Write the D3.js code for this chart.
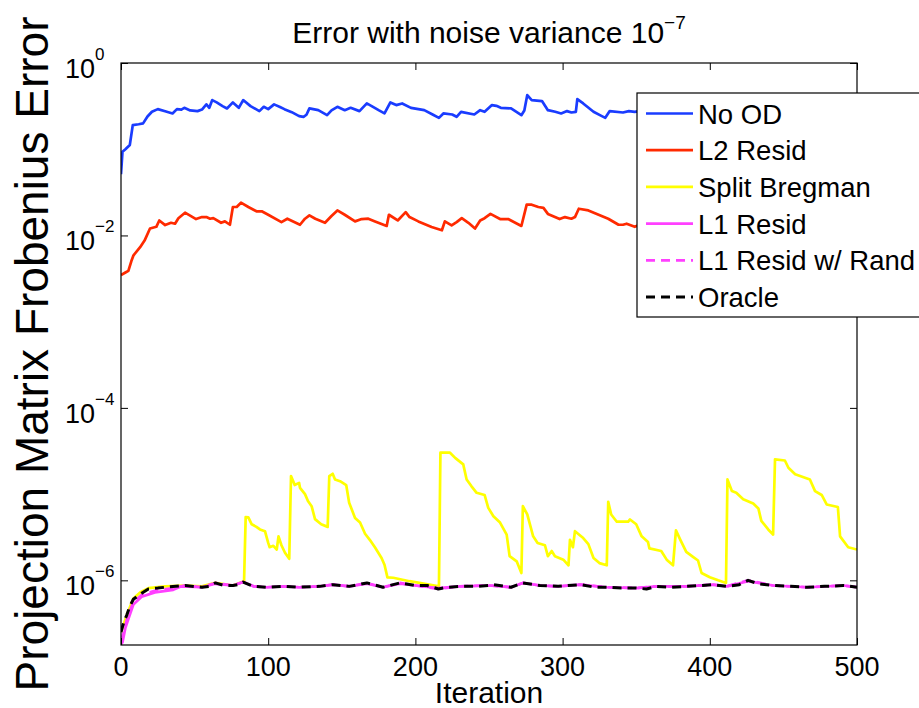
<!DOCTYPE html>
<html>
<head>
<meta charset="utf-8">
<script src="https://cdn.jsdelivr.net/npm/d3@7/dist/d3.min.js"></script>
<style>
  body { margin: 0; background: #fff; }
  svg { font-family: "Liberation Sans", Arial, Helvetica, sans-serif; }
</style>
</head>
<body>
<div id="chart-container"></div>
<script>
// [iteration, log10(error)]
const noOd = [[0,-1.29],[1,-1.03],[3,-1.0],[6,-0.95],[8,-0.72],[12,-0.71],[15,-0.7],[18,-0.62],[21,-0.566],[25,-0.535],[30,-0.56],[35,-0.585],[38,-0.535],[41,-0.54],[43,-0.52],[47,-0.55],[52,-0.558],[55,-0.54],[58,-0.48],[60,-0.52],[62,-0.43],[65,-0.457],[69,-0.5],[72,-0.527],[76,-0.457],[80,-0.52],[83,-0.43],[88,-0.5],[94,-0.558],[97,-0.508],[100,-0.535],[104,-0.48],[108,-0.51],[111,-0.535],[116,-0.57],[121,-0.616],[124,-0.624],[126,-0.6],[128,-0.527],[134,-0.547],[140,-0.605],[143,-0.55],[147,-0.508],[152,-0.547],[156,-0.52],[162,-0.558],[167,-0.469],[170,-0.497],[175,-0.547],[179,-0.585],[183,-0.457],[187,-0.488],[191,-0.469],[197,-0.52],[206,-0.547],[212,-0.6],[216,-0.636],[219,-0.585],[225,-0.597],[228,-0.624],[231,-0.566],[240,-0.597],[244,-0.547],[247,-0.566],[252,-0.488],[255,-0.497],[258,-0.52],[265,-0.527],[272,-0.605],[274,-0.55],[276,-0.372],[279,-0.43],[286,-0.442],[290,-0.547],[295,-0.566],[299,-0.585],[303,-0.558],[306,-0.574],[309,-0.566],[310,-0.419],[314,-0.469],[321,-0.566],[326,-0.61],[329,-0.636],[332,-0.558],[341,-0.574],[345,-0.558],[349,-0.566],[355,-0.55],[362,-0.6],[370,-0.52],[378,-0.56],[386,-0.5],[395,-0.58],[404,-0.54],[412,-0.6],[420,-0.5],[430,-0.56],[440,-0.53],[450,-0.6],[460,-0.55],[470,-0.5],[480,-0.57],[490,-0.54],[500,-0.56]];

const l2Resid = [[0,-2.46],[3,-2.43],[5,-2.41],[7,-2.3],[8.5,-2.23],[13,-2.136],[16,-2.06],[19.7,-1.92],[24,-1.9],[26,-1.826],[30,-1.88],[34,-1.853],[36.7,-1.864],[39,-1.8],[43.5,-1.736],[51,-1.81],[55,-1.787],[58,-1.787],[60.5,-1.806],[62.7,-1.8],[68,-1.853],[70.6,-1.837],[74,-1.876],[76,-1.67],[78.6,-1.67],[81.5,-1.62],[86.5,-1.67],[92,-1.72],[95.6,-1.72],[100,-1.76],[109,-1.845],[113,-1.806],[121.6,-1.876],[125,-1.806],[128,-1.767],[132,-1.806],[138.6,-1.853],[143,-1.775],[147,-1.71],[152,-1.76],[159,-1.837],[163.5,-1.81],[168,-1.806],[172.6,-1.837],[180.5,-1.89],[182,-1.76],[188,-1.826],[193.4,-1.73],[196,-1.787],[202,-1.837],[211,-1.903],[218,-1.94],[220,-1.837],[224.6,-1.884],[228,-1.845],[231.5,-1.8],[236,-1.853],[240.5,-1.92],[244,-1.826],[247,-1.8],[251,-1.75],[257.5,-1.81],[263,-1.81],[272,-1.89],[275.6,-1.643],[279,-1.643],[283.5,-1.67],[287,-1.68],[290,-1.75],[298,-1.81],[301.6,-1.787],[306,-1.806],[308.4,-1.787],[311,-1.69],[317.5,-1.71],[331,-1.806],[338,-1.876],[341,-1.876],[343.5,-1.864],[349,-1.9],[356,-1.85],[364,-1.9],[372,-1.8],[380,-1.86],[390,-1.82],[400,-1.9],[410,-1.85],[420,-1.78],[430,-1.86],[440,-1.82],[450,-1.9],[460,-1.84],[470,-1.8],[480,-1.87],[490,-1.83],[500,-1.88]];

const splitBregman = [[0,-6.6],[4,-6.4],[8.4,-6.21],[13,-6.14],[18.6,-6.09],[30,-6.07],[43.5,-6.06],[55,-6.07],[64,-6.03],[76,-6.06],[83.6,-6.01],[84.7,-5.267],[86.5,-5.27],[88.8,-5.35],[92,-5.38],[94.4,-5.41],[97.8,-5.43],[100,-5.566],[101,-5.616],[103.5,-5.6],[105.8,-5.643],[107,-5.49],[109,-5.593],[111.4,-5.68],[114.3,-5.75],[115.5,-4.79],[117,-4.85],[118,-4.895],[121,-4.87],[121.6,-4.927],[125,-5.0],[127,-5.08],[129.5,-5.14],[131.8,-5.29],[136,-5.35],[140.4,-5.38],[141.5,-4.79],[143.8,-4.764],[145.4,-4.83],[148.8,-4.85],[153,-4.895],[155,-5.1],[159,-5.276],[162.4,-5.33],[165.8,-5.46],[169,-5.53],[172.6,-5.62],[177,-5.74],[179,-5.82],[181,-5.965],[185,-5.97],[196,-6.01],[216,-6.07],[217,-4.52],[223.5,-4.52],[227,-4.58],[232.5,-4.655],[234.8,-4.83],[238,-4.907],[241.6,-4.985],[247,-5.01],[249.5,-5.16],[253,-5.256],[257.5,-5.33],[262,-5.47],[264,-5.72],[268.8,-5.78],[272,-5.915],[273,-5.14],[276,-5.236],[280,-5.49],[283,-5.566],[288,-5.593],[290,-5.72],[292.6,-5.66],[294.8,-5.72],[300.5,-5.76],[304,-5.826],[305,-5.53],[307,-5.616],[308.4,-5.43],[314,-5.51],[317.5,-5.58],[321,-5.74],[325,-5.8],[330,-5.826],[331,-5.09],[333,-5.236],[336.8,-5.32],[344.6,-5.32],[345.8,-5.294],[350,-5.35],[353.7,-5.49],[358,-5.555],[359,-5.63],[367,-5.66],[370.7,-5.76],[375,-5.826],[377,-5.42],[380,-5.53],[384,-5.67],[388.8,-5.73],[392,-5.77],[394.4,-5.915],[400,-5.965],[405.7,-6.0],[411,-6.03],[412,-4.83],[415,-4.965],[418,-4.985],[422.7,-5.06],[429.5,-5.11],[433,-5.166],[435,-5.31],[439.7,-5.41],[443,-5.47],[444.3,-4.597],[451,-4.61],[453.4,-4.694],[458,-4.77],[468,-4.83],[471.5,-4.965],[476,-5.01],[479.4,-5.12],[487,-5.15],[488.5,-5.49],[494,-5.616],[500,-5.643]];

const l1Resid = [[0,-6.74],[1,-6.72],[3,-6.55],[5,-6.45],[8.4,-6.28],[14,-6.19],[23,-6.14],[35.5,-6.11],[41,-6.07],[55,-6.08],[64,-6.04],[76,-6.06],[83,-6.02],[90,-6.07],[99,-6.08],[110,-6.07],[121,-6.08],[135,-6.07],[144,-6.05],[155,-6.07],[167,-6.04],[178,-6.08],[189.5,-6.04],[200,-6.06],[215.6,-6.09],[230,-6.07],[250,-6.06],[265,-6.08],[273,-6.03],[284.6,-6.06],[297,-6.07],[312,-6.05],[330,-6.08],[350,-6.09],[364,-6.07],[384,-6.07],[402,-6.05],[411.5,-6.07],[426,-6.01],[443,-6.06],[466,-6.08],[490.7,-6.06],[500,-6.08]];

const l1ResidRand = [[0,-6.7],[2,-6.6],[4,-6.45],[8.4,-6.25],[14,-6.17],[23,-6.12],[35.5,-6.09],[43,-6.06],[55,-6.08],[64,-6.03],[76,-6.06],[83,-6.02],[90,-6.07],[99,-6.08],[110,-6.07],[121,-6.08],[135,-6.07],[144,-6.05],[155,-6.07],[167,-6.03],[178,-6.08],[189.5,-6.03],[200,-6.06],[215.6,-6.1],[230,-6.07],[250,-6.06],[265,-6.08],[273,-6.03],[284.6,-6.06],[297,-6.07],[312,-6.05],[330,-6.08],[350,-6.09],[364,-6.07],[384,-6.07],[402,-6.05],[411.5,-6.07],[426,-6.0],[443,-6.06],[466,-6.08],[490.7,-6.06],[500,-6.08]];

const oracle = [[0,-6.6],[2,-6.48],[4,-6.4],[6,-6.3],[8.4,-6.22],[13,-6.16],[18.6,-6.1],[25,-6.09],[30,-6.08],[43.5,-6.06],[55,-6.08],[60,-6.07],[64,-6.03],[70,-6.06],[76,-6.06],[80,-6.05],[83,-6.02],[90,-6.07],[99,-6.08],[110,-6.07],[121,-6.08],[135,-6.07],[144,-6.05],[155,-6.07],[167,-6.03],[178,-6.08],[189.5,-6.03],[200,-6.06],[208,-6.06],[215.6,-6.1],[222,-6.08],[230,-6.07],[241,-6.07],[250,-6.06],[253,-6.05],[265,-6.08],[273,-6.03],[284.6,-6.06],[297,-6.07],[312,-6.05],[322,-6.08],[330,-6.08],[340,-6.09],[350,-6.09],[357,-6.1],[364,-6.07],[374,-6.08],[384,-6.07],[395,-6.06],[402,-6.05],[411.5,-6.07],[420,-6.05],[426,-6.0],[433,-6.04],[443,-6.06],[455,-6.07],[466,-6.08],[478,-6.07],[490.7,-6.06],[500,-6.08]];

const seriesNames = ["No OD", "L2 Resid", "Split Bregman", "L1 Resid", "L1 Resid w/ Rand", "Oracle"];
const xTicks = [0, 100, 200, 300, 400, 500];
const yTickExps = [0, -2, -4, -6];

const margin = {top: 63, right: 62, bottom: 63, left: 121};
const width = 919 - margin.left - margin.right;
const height = 708 - margin.top - margin.bottom;

const x = d3.scaleLinear().domain([0, 500]).range([0, width]);
const y = d3.scaleLog().domain([Math.pow(10, -6.75), 1]).range([height, 0]);

const svg = d3.select("#chart-container")
    .append("svg")
    .attr("width", 919)
    .attr("height", 708);

const g = svg.append("g")
    .attr("transform", `translate(${margin.left},${margin.top})`);

g.append("clipPath").attr("id", "plot-clip")
    .append("rect").attr("width", width).attr("height", height);

const series = [
  {data: noOd, color: "#1a3cff", dash: null},
  {data: l2Resid, color: "#ff2a00", dash: null},
  {data: splitBregman, color: "#ffff00", dash: null},
  {data: l1Resid, color: "#ff40ff", dash: null},
  {data: l1ResidRand, color: "#ff40ff", dash: "9,6"},
  {data: oracle, color: "#000000", dash: "9,6"}
];

const line = d3.line()
    .x(d => x(d[0]))
    .y(d => y(Math.pow(10, d[1])));

const lines = g.append("g").attr("clip-path", "url(#plot-clip)");
series.forEach(s => {
  lines.append("path")
      .datum(s.data)
      .attr("fill", "none")
      .attr("stroke", s.color)
      .attr("stroke-width", s.dash && s.color === "#000000" ? 3 : 2.7)
      .attr("stroke-dasharray", s.dash)
      .attr("stroke-linejoin", "round")
      .attr("d", line);
});

// axes box with inward ticks, MATLAB style
const tickLen = 7;
g.append("g")
    .attr("transform", `translate(0,${height})`)
    .call(d3.axisBottom(x).tickValues(xTicks).tickSize(-tickLen).tickFormat(""))
    .call(a => a.select(".domain").remove());
g.append("g")
    .call(d3.axisTop(x).tickValues(xTicks).tickSize(-tickLen).tickFormat(""))
    .call(a => a.select(".domain").remove());
g.append("g")
    .call(d3.axisLeft(y).tickValues(yTickExps.map(e => Math.pow(10, e))).tickSize(-tickLen).tickFormat(""))
    .call(a => a.select(".domain").remove());
g.append("g")
    .attr("transform", `translate(${width},0)`)
    .call(d3.axisRight(y).tickValues(yTickExps.map(e => Math.pow(10, e))).tickSize(-tickLen).tickFormat(""))
    .call(a => a.select(".domain").remove());
g.selectAll(".tick line").attr("stroke", "#000");

g.append("rect")
    .attr("width", width).attr("height", height)
    .attr("fill", "none").attr("stroke", "#000").attr("stroke-width", 1.2);

// tick labels
g.selectAll(".xlab")
    .data(xTicks)
    .enter().append("text")
    .attr("x", d => x(d))
    .attr("y", height + 31)
    .attr("text-anchor", "middle")
    .style("font-size", "27px")
    .text(d => d);

yTickExps.forEach(e => {
  const t = g.append("text")
      .attr("x", -56)
      .attr("y", y(Math.pow(10, e)) + 15)
      .style("font-size", "27px");
  t.append("tspan").text("10");
  t.append("tspan").attr("dy", -18).style("font-size", "17px")
      .text(e === 0 ? "0" : "\u2212" + Math.abs(e));
});

// title and axis labels
const title = svg.append("text")
    .attr("x", margin.left + width / 2)
    .attr("y", 43)
    .attr("text-anchor", "middle")
    .style("font-size", "30px");
title.append("tspan").text("Error with noise variance 10");
title.append("tspan").attr("dy", -14).style("font-size", "19px").text("\u22127");

svg.append("text")
    .attr("x", margin.left + width / 2)
    .attr("y", 703)
    .attr("text-anchor", "middle")
    .style("font-size", "30px")
    .text("Iteration");

svg.append("text")
    .attr("transform", `translate(48,${margin.top + height / 2}) rotate(-90)`)
    .attr("text-anchor", "middle")
    .style("font-size", "46px")
    .text("Projection Matrix Frobenius Error");

// legend
const legend = svg.append("g").attr("transform", "translate(637,93)");
legend.append("rect")
    .attr("width", 300).attr("height", 224)
    .attr("fill", "#fff").attr("stroke", "#000").attr("stroke-width", 1.2);
seriesNames.forEach((name, i) => {
  const s = series[i];
  const cy = 20.5 + i * 36.7;
  legend.append("line")
      .attr("x1", 9).attr("x2", 56).attr("y1", cy).attr("y2", cy)
      .attr("stroke", s.color)
      .attr("stroke-width", s.color === "#000000" ? 3 : 2.7)
      .attr("stroke-dasharray", s.dash);
  legend.append("text")
      .attr("x", 61).attr("y", cy + 10)
      .style("font-size", "27.5px")
      .text(name);
});
</script>
</body>
</html>
